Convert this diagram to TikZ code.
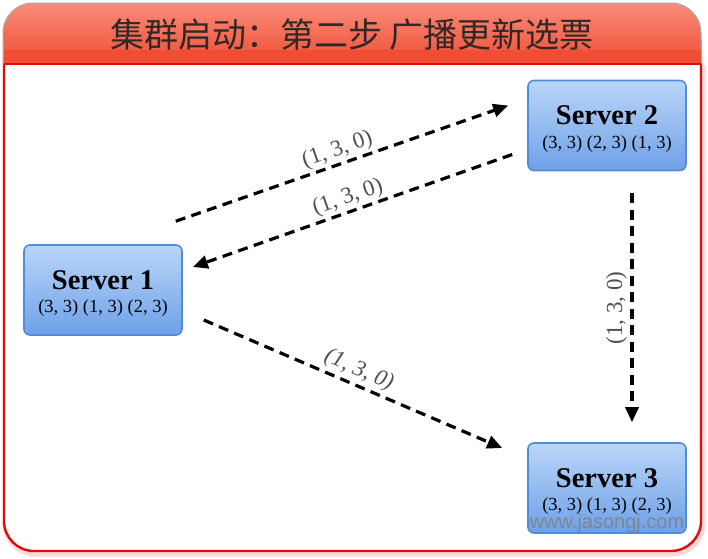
\documentclass[tikz,border=0pt]{standalone}
\usepackage{fontspec}
\setmainfont{Liberation Serif}
\newfontfamily\cjk{Noto Sans CJK SC}
\newfontfamily\wmfont{Liberation Sans}
\usetikzlibrary{arrows.meta}
\definecolor{hdtop}{RGB}{249,140,122}
\definecolor{hdbot}{RGB}{240,78,52}
\definecolor{framered}{RGB}{226,10,10}
\definecolor{boxtop}{RGB}{186,214,248}
\definecolor{boxbot}{RGB}{110,160,232}
\definecolor{boxline}{RGB}{80,140,215}
\definecolor{lbl}{RGB}{80,80,80}
\definecolor{titlec}{RGB}{50,40,40}
\tikzset{
  server/.style={draw=boxline, line width=1.6pt, rounded corners=6pt,
    top color=boxtop, bottom color=boxbot, minimum width=158pt, minimum height=90pt,
    align=center, inner sep=0pt},
  msg/.style={line width=3.2pt, dash pattern=on 10pt off 6.5pt,
    -{Triangle[length=15pt,width=13pt]}},
  vote/.style={text=lbl, font=\fontsize{23}{25}\selectfont, inner sep=0pt},
}
\newcommand{\srv}[2]{{\fontsize{28.5}{30}\selectfont\bfseries\rule{0pt}{26pt}#1}\\[9pt]{\fontsize{18.5}{21}\selectfont #2}}
\begin{document}
\begin{tikzpicture}[x=1pt,y=-1pt]
\useasboundingbox (0,0) rectangle (708,558);
% shadow of frame
\draw[line width=5pt, red!15, rounded corners=30pt] (5,66) -- (5,554) -- (703,554) -- (703,66);
% body frame (top corners hidden under header)
\draw[framered, line width=2.4pt, rounded corners=30pt, fill=white]
  (4,30) rectangle (701,551);
% header
\path[top color=hdtop, bottom color=hdbot, draw=gray!70, line width=1pt, rounded corners=30pt]
  (3,64) -- (3,3) -- (701,3) -- (701,64);
\fill[hdbot] (3.5,50) rectangle (700.5,63);
\draw[gray!70, line width=1pt] (3,40) -- (3,63) (701,40) -- (701,63);
\draw[framered, line width=2.4pt] (4,64) -- (701,64);
\node[text=titlec, font=\cjk\fontsize{34}{36}\selectfont, inner sep=0pt] (title) at (352,35) {集群启动：第二步 广播更新选票};
% servers
\node[server] (s1) at (103,290) {\srv{Server 1}{(3, 3) (1, 3) (2, 3)}};
\node[server] (s2) at (607,125.5) {\srv{Server 2}{(3, 3) (2, 3) (1, 3)}};
\node[server] (s3) at (607,488) {\srv{Server 3}{(3, 3) (1, 3) (2, 3)}};
% messages
\draw[msg] ([xshift=-7pt,yshift=23pt]s1.north east) -- node[vote, sloped, above=2pt] (l1) {(1, 3, 0)} ([xshift=-19pt,yshift=20pt]s2.west);
\draw[msg] ([xshift=-15pt,yshift=-29pt]s2.west) -- node[vote, sloped, above=2pt] (l2) {(1, 3, 0)} ([xshift=10pt,yshift=23pt]s1.east);
\draw[msg] ([xshift=25pt,yshift=-22pt]s2.south) -- node[vote, rotate=90, anchor=south, yshift=3.5pt] (l3) {(1, 3, 0)} ([xshift=25pt,yshift=20pt]s3.north);
\draw[msg] ([xshift=21pt,yshift=-30pt]s1.east) -- node[vote, sloped, above=3pt, font=\fontsize{23}{25}\selectfont\itshape] (l4) {(1, 3, 0)} ([xshift=-25pt,yshift=40pt]s3.west);
% watermark
\node[text=gray, opacity=0.85, font=\wmfont\fontsize{20}{22}\selectfont, inner sep=0pt] (wm) at (607,523) {www.jasongj.com};
\end{tikzpicture}
\end{document}
